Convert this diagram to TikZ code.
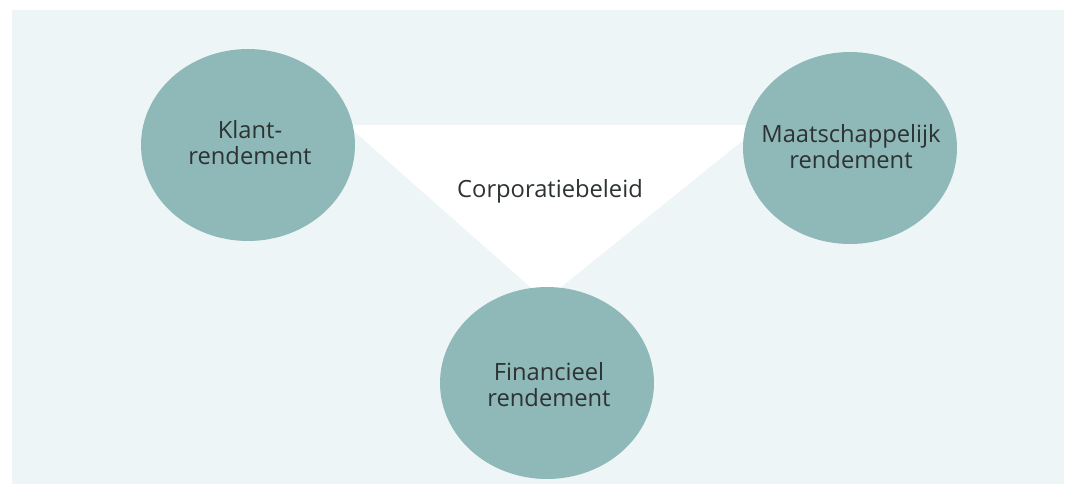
\documentclass[tikz,border=0pt]{standalone}
\usepackage{fontspec}
\setmainfont{Open Sans}
\usetikzlibrary{shapes.geometric}

\definecolor{panel}{RGB}{238,245,247}
\definecolor{bol}{RGB}{143,184,184}
\definecolor{tekst}{RGB}{45,50,50}

\tikzset{
  bol/.style={ellipse, fill=bol, inner sep=0pt,
    minimum width=4.28cm, minimum height=3.84cm},
  opschrift/.style={align=center, text=tekst, inner sep=0pt,
    font=\fontsize{13.5}{14.8}\selectfont}
}

\begin{document}
\begin{tikzpicture}[x=0.02cm, y=-0.02cm]

\def\kader{(0,0) rectangle (1071,488)}
\def\paneel{(12,10) rectangle (1064,484)}

% page and panel
\fill[white] \kader;
\fill[panel] \paneel;
\useasboundingbox \kader;

% white triangle behind the circles
\coordinate (tl) at (347,125);
\coordinate (tr) at (762,125);
\coordinate (tb) at (545,300);
\fill[white] (tl) -- (tr) -- (tb) -- cycle;

\node[opschrift] (beleid) at (550,191) {Corporatiebeleid};

% the three circles, text on top
\node[bol] (klant) at (248,145) {};
\node[bol] (maatschappij) at (850,148) {};
\node[bol] (financieel) at (547,383) {};

\node[opschrift] (klanttekst) at (250,143) {Klant-\\rendement};
\node[opschrift] (maatschappijtekst) at (851,147) {Maatschappelijk\\rendement};
\node[opschrift] (financieeltekst) at (549,385) {Financieel\\rendement};

\end{tikzpicture}
\end{document}
